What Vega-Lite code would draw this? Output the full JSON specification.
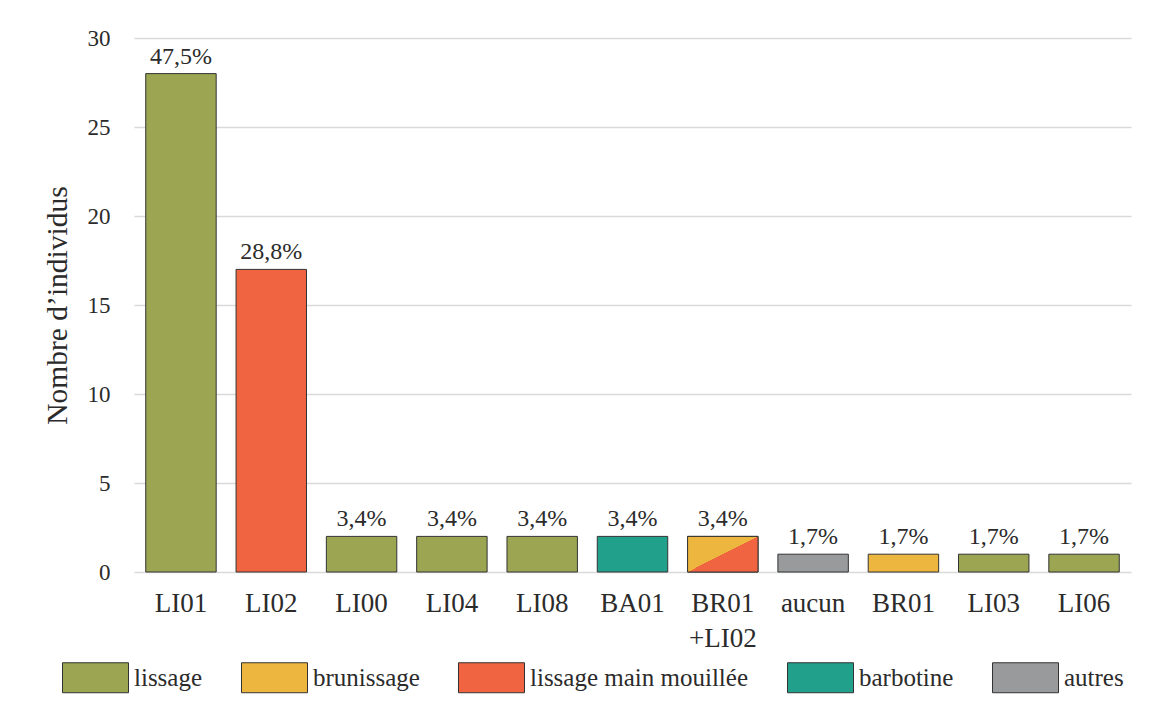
{
  "$schema": "https://vega.github.io/schema/vega-lite/v6.json",
  "width": 997,
  "height": 534,
  "autosize": "none",
  "padding": {"left": 134, "top": 38, "right": 31, "bottom": 145},
  "background": "white",
  "config": {
    "font": "Liberation Serif",
    "view": {"stroke": null},
    "axis": {"labelFont": "Liberation Serif", "titleFont": "Liberation Serif"},
    "legend": {"labelFont": "Liberation Serif", "titleFont": "Liberation Serif"},
    "text": {"font": "Liberation Serif"}
  },
  "data": {
    "values": [
      {"code": "LI01", "n": 28, "type": "lissage", "pct": "47,5%"},
      {"code": "LI02", "n": 17, "type": "lissage main mouillée", "pct": "28,8%"},
      {"code": "LI00", "n": 2, "type": "lissage", "pct": "3,4%"},
      {"code": "LI04", "n": 2, "type": "lissage", "pct": "3,4%"},
      {"code": "LI08", "n": 2, "type": "lissage", "pct": "3,4%"},
      {"code": "BA01", "n": 2, "type": "barbotine", "pct": "3,4%"},
      {"code": "BR01+LI02", "n": 2, "type": "brunissage", "pct": "3,4%"},
      {"code": "aucun", "n": 1, "type": "autres", "pct": "1,7%"},
      {"code": "BR01", "n": 1, "type": "brunissage", "pct": "1,7%"},
      {"code": "LI03", "n": 1, "type": "lissage", "pct": "1,7%"},
      {"code": "LI06", "n": 1, "type": "lissage", "pct": "1,7%"}
    ]
  },
  "layer": [
    {
      "mark": {"type": "bar", "stroke": "#333333", "strokeWidth": 1},
      "encoding": {
        "x": {
          "field": "code", "type": "nominal", "sort": null,
          "scale": {
            "domain": ["LI01", "LI02", "LI00", "LI04", "LI08", "BA01", "BR01+LI02", "aucun", "BR01", "LI03", "LI06"],
            "paddingInner": 0.22, "paddingOuter": 0.13
          },
          "axis": {
            "title": null, "labelAngle": 0, "labelFontSize": 27, "labelPadding": 18,
            "labelFont": "Liberation Serif",
            "ticks": false, "domain": false, "labelColor": "#2b2b2b",
            "labelBaseline": "top", "labelLineHeight": 35,
            "labelExpr": "datum.label === 'BR01+LI02' ? ['BR01', '+LI02'] : datum.label"
          }
        },
        "y": {
          "field": "n", "type": "quantitative",
          "scale": {"domain": [0, 30]},
          "axis": {
            "title": "Nombre d’individus", "titleFontSize": 29.5, "titleFontWeight": "normal",
            "titleFont": "Liberation Serif", "labelFont": "Liberation Serif",
            "titleColor": "#2b2b2b", "titlePadding": 15,
            "values": [0, 5, 10, 15, 20, 25, 30],
            "labelFontSize": 23, "labelPadding": 24, "labelColor": "#2b2b2b",
            "ticks": false, "domain": false,
            "grid": true, "gridColor": "#d9d9d9", "gridWidth": 1.5
          }
        },
        "color": {
          "field": "type", "type": "nominal",
          "scale": {
            "domain": ["lissage", "brunissage", "lissage main mouillée", "barbotine", "autres"],
            "range": ["#9BA552", "#EDB63E", "#F06442", "#21A08B", "#989A9B"]
          },
          "legend": {
            "title": null, "orient": "none", "legendX": -72, "legendY": 606,
            "direction": "horizontal", "columns": 5, "padding": 0,
            "symbolType": "M-1,-0.4545H1V0.4545H-1Z", "symbolSize": 4356,
            "symbolStrokeColor": "#333333", "symbolStrokeWidth": 1, "symbolOpacity": 1,
            "labelFont": "Liberation Serif",
            "labelFontSize": 25, "labelOffset": 5, "columnPadding": 36,
            "labelColor": "#2b2b2b", "labelLimit": 400
          }
        }
      }
    },
    {
      "transform": [{"filter": "datum.code === 'BR01+LI02'"}],
      "mark": {
        "type": "bar", "stroke": "#333333", "strokeWidth": 1,
        "fill": {
          "gradient": "linear", "x1": 0, "y1": 0, "x2": 1, "y2": 1,
          "stops": [
            {"offset": 0, "color": "#EDB63E"},
            {"offset": 0.5, "color": "#EDB63E"},
            {"offset": 0.5, "color": "#F06442"},
            {"offset": 1, "color": "#F06442"}
          ]
        }
      },
      "encoding": {
        "x": {"field": "code", "type": "nominal", "sort": null},
        "y": {"field": "n", "type": "quantitative"}
      }
    },
    {
      "mark": {"type": "text", "baseline": "alphabetic", "dy": -10, "fontSize": 24, "color": "#2b2b2b", "font": "Liberation Serif"},
      "encoding": {
        "x": {"field": "code", "type": "nominal", "sort": null},
        "y": {"field": "n", "type": "quantitative"},
        "text": {"field": "pct"}
      }
    }
  ]
}
